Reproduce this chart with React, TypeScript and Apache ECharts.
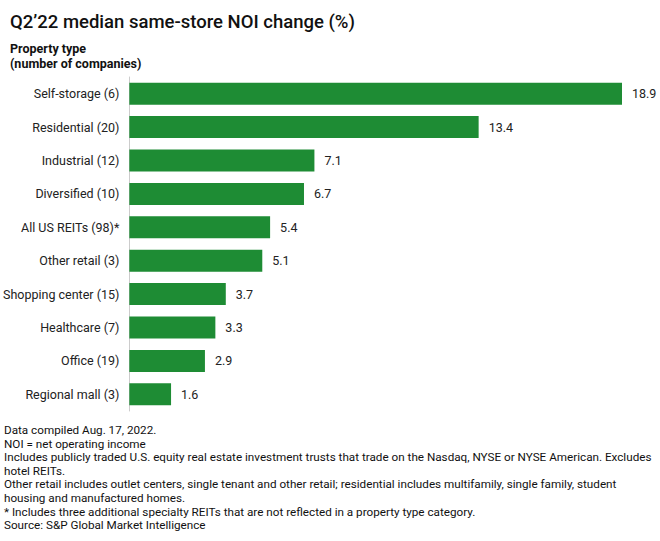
import React, { useEffect, useRef } from "react";
import * as echarts from "echarts";

const categories = [
  "Self-storage (6)",
  "Residential (20)",
  "Industrial (12)",
  "Diversified (10)",
  "All US REITs (98)*",
  "Other retail (3)",
  "Shopping center (15)",
  "Healthcare (7)",
  "Office (19)",
  "Regional mall (3)",
];
const values = [18.9, 13.4, 7.1, 6.7, 5.4, 5.1, 3.7, 3.3, 2.9, 1.6];

const titleText = "Q2\u201922 median same-store NOI change (%)";
const axisTitleLines = ["Property type", "(number of companies)"];
const footnotes = [
  "Data compiled Aug. 17, 2022.",
  "NOI = net operating income",
  "Includes publicly traded U.S. equity real estate investment trusts that trade on the Nasdaq, NYSE or NYSE American. Excludes",
  "hotel REITs.",
  "Other retail includes outlet centers, single tenant and other retail; residential includes multifamily, single family, student",
  "housing and manufactured homes.",
  "* Includes three additional specialty REITs that are not reflected in a property type category.",
  "Source: S&P Global Market Intelligence",
];

const FONT = "Roboto, 'Noto Sans', sans-serif";

export default function App() {
  const ref = useRef<HTMLDivElement>(null);
  useEffect(() => {
    document.body.style.margin = "0";
    if (!ref.current) return;
    const chart = echarts.init(ref.current, undefined, { renderer: "svg" });
    const footGraphics = footnotes.map((t, i) => ({
      type: "text",
      left: 4,
      top: 424 + i * 13.6,
      style: { text: t, fontSize: 11.7, fontFamily: FONT, fill: "#111" },
    }));
    chart.setOption({
      animation: false,
      backgroundColor: "#ffffff",
      title: {
        text: titleText,
        left: 5,
        top: 7,
        textStyle: { fontSize: 18.5, fontWeight: 500, color: "#111", fontFamily: FONT },
      },
      graphic: [
        {
          type: "text",
          left: 10,
          top: 41,
          style: {
            text: axisTitleLines.join("\n"),
            fontSize: 12.5,
            fontWeight: "bold",
            lineHeight: 15,
            fontFamily: FONT,
            fill: "#111",
          },
        },
        ...footGraphics,
      ],
      grid: { left: 128, right: 38, top: 77, bottom: 130, containLabel: false },
      xAxis: {
        type: "value",
        min: 0,
        max: 18.9,
        show: false,
      },
      yAxis: {
        type: "category",
        data: categories,
        inverse: true,
        axisLine: { show: true, lineStyle: { color: "#cccccc", width: 1 } },
        axisTick: { show: false },
        axisLabel: { fontSize: 12.5, color: "#222", margin: 10, fontFamily: FONT },
      },
      series: [
        {
          type: "bar",
          data: values,
          barWidth: 22,
          itemStyle: { color: "#1e8c34" },
          label: {
            show: true,
            position: "right",
            distance: 10,
            fontSize: 12.5,
            color: "#222",
            fontFamily: FONT,
            formatter: (p: any) => p.value.toFixed(1),
          },
        },
      ],
    });
    return () => chart.dispose();
  }, []);
  return <div ref={ref} style={{ width: 660, height: 541 }} />;
}
